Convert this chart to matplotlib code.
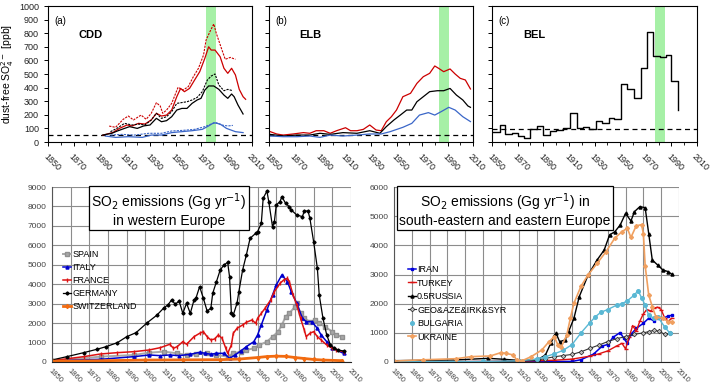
import matplotlib
matplotlib.use("Agg")
import matplotlib.pyplot as plt
from matplotlib.ticker import MultipleLocator, FixedLocator

plt.rcParams['font.family'] = ['Liberation Sans', 'DejaVu Sans']

# ---- ice core records (ppb) ----
cdd_red_yr = [1893, 1901, 1906, 1912, 1916, 1921, 1926, 1931, 1935, 1939, 1943, 1947, 1951, 1954, 1957,
              1961, 1965, 1969, 1973, 1976, 1978, 1981, 1985, 1988, 1991, 1994, 1997, 2000, 2003, 2005]
cdd_red = [50, 70, 100, 125, 118, 137, 132, 162, 211, 191, 198, 235, 333, 394, 370,
           394, 456, 517, 615, 700, 676, 676, 627, 542, 505, 542, 493, 387, 333, 314]
cdd_red_up_yr = [1898, 1903, 1909, 1913, 1917, 1923, 1927, 1931, 1935, 1938, 1940, 1943, 1947, 1952,
                 1956, 1960, 1964, 1968, 1972, 1974, 1977, 1980, 1982, 1986, 1989, 1993, 1997]
cdd_red_up = [117, 108, 167, 191, 162, 198, 167, 211, 289, 265, 211, 235, 284, 402,
              382, 407, 480, 542, 640, 750, 811, 868, 799, 689, 608, 622, 608]
cdd_blk_yr = [1893, 1900, 1905, 1910, 1914, 1920, 1925, 1930, 1935, 1939, 1943, 1947, 1951, 1955,
              1959, 1963, 1967, 1970, 1973, 1976, 1980, 1984, 1988, 1991, 1994, 1996, 1999, 2003]
cdd_blk = [51, 64, 83, 100, 113, 100, 118, 125, 174, 149, 157, 186, 235, 247,
           247, 284, 309, 321, 382, 412, 412, 387, 345, 321, 353, 333, 272, 206]
cdd_blk_up_yr = [1899, 1904, 1910, 1916, 1921, 1926, 1931, 1935, 1939, 1943, 1947, 1951, 1955,
                 1959, 1963, 1967, 1971, 1975, 1978, 1981, 1984, 1988, 1991, 1995]
cdd_blk_up = [76, 100, 137, 125, 132, 125, 162, 211, 174, 186, 223, 284, 290,
              296, 309, 328, 370, 456, 485, 500, 419, 377, 387, 377]
cdd_blu_yr = [1895, 1903, 1913, 1924, 1931, 1939, 1947, 1955, 1963, 1971, 1976, 1980, 1985, 1990, 1997, 2003]
cdd_blu = [44, 34, 39, 34, 51, 51, 69, 76, 83, 93, 118, 142, 132, 100, 76, 69]
cdd_blu_up_yr = [1899, 1908, 1918, 1929, 1939, 1947, 1955, 1965, 1973, 1978, 1982, 1986, 1991, 1995]
cdd_blu_up = [51, 56, 51, 64, 64, 81, 85, 93, 113, 132, 142, 125, 118, 122]

elb_red_yr = [1851, 1856, 1861, 1869, 1877, 1882, 1887, 1893, 1898, 1903, 1910, 1914, 1919, 1924, 1929,
              1934, 1938, 1942, 1946, 1950, 1955, 1961, 1966, 1971, 1976, 1980, 1983, 1987, 1992, 1996,
              2000, 2004, 2008]
elb_red = [76, 59, 51, 59, 69, 64, 83, 83, 64, 83, 105, 83, 83, 93, 125,
           88, 83, 149, 186, 235, 333, 358, 431, 480, 505, 559, 542, 517, 537, 500,
           468, 456, 390]
elb_blk_yr = [1851, 1861, 1872, 1882, 1890, 1898, 1908, 1919, 1929, 1937, 1942, 1948, 1953, 1958,
              1962, 1966, 1971, 1976, 1982, 1987, 1992, 1997, 2002, 2006, 2008]
elb_blk = [56, 44, 51, 51, 64, 56, 69, 64, 83, 64, 113, 162, 198, 235,
           235, 296, 333, 370, 377, 377, 394, 345, 309, 265, 255]
elb_blu_yr = [1851, 1861, 1872, 1882, 1890, 1898, 1908, 1919, 1929, 1938, 1945, 1955, 1962, 1968,
              1975, 1980, 1985, 1991, 1996, 2002, 2008]
elb_blu = [44, 39, 39, 44, 34, 51, 44, 51, 59, 59, 76, 108, 137, 198,
           216, 198, 223, 255, 235, 186, 150]

bel_edges = [1850, 1856, 1860, 1865.5, 1870, 1875, 1880, 1885, 1890, 1895.5, 1900, 1905.5, 1910.5, 1916,
             1921, 1926, 1931, 1936, 1941, 1945.5, 1950.5, 1955.5, 1960.5, 1966, 1971, 1976, 1981,
             1985.5, 1990, 1995.5]
bel_vals = [74, 123, 57, 66, 44, 29, 98, 115, 49, 81, 91, 101, 216, 101,
            111, 93, 152, 143, 179, 167, 430, 393, 324, 541, 806, 631, 622,
            639, 447, 238]

bands = [(1974, 1982), (1983, 1991), (1977, 1985)]
background = [50, 50, 95]
top_ticks = list(range(1850, 2011, 20))

# ---- emissions, western Europe (Gg/yr) ----
ger_yr = [1850, 1858, 1867, 1874, 1879, 1885, 1890, 1895, 1901, 1906, 1910, 1912, 1914, 1916, 1918, 1920,
          1922, 1924, 1926, 1927, 1929, 1931, 1933, 1935, 1936, 1938, 1940, 1942, 1944, 1945, 1946, 1947,
          1949, 1950, 1952, 1954, 1956, 1959, 1960, 1962, 1963, 1965, 1966, 1968, 1969, 1970, 1972, 1973,
          1975, 1977, 1978, 1981, 1984, 1985, 1987, 1988, 1990, 1992, 1993, 1995, 1997, 1999, 2001, 2003, 2006]
ger = [104, 276, 481, 653, 790, 996, 1304, 1510, 2024, 2400, 2796, 2932, 3190, 2967, 3138, 2504,
       3018, 2504, 3190, 3275, 3875, 3275, 2624, 2761, 3532, 4132, 4732, 4989, 5126, 4389, 2504, 2418,
       3018, 3618, 4732, 5504, 6361, 6618, 6704, 7132, 8417, 8794, 8246, 6961, 7218, 8075, 8246, 8503,
       8160, 7989, 7818, 7560, 7475, 7766, 7766, 7389, 6189, 4818, 3446, 2247, 1390, 876, 704, 619, 567]
fra_yr = [1850, 1867, 1876, 1885, 1894, 1902, 1908, 1913, 1915, 1917, 1920, 1922, 1926, 1929, 1931, 1933,
          1935, 1937, 1939, 1941, 1943, 1944, 1946, 1947, 1949, 1952, 1954, 1957, 1959, 1960, 1962, 1964,
          1967, 1969, 1972, 1974, 1976, 1977, 1979, 1981, 1983, 1985, 1986, 1988, 1990, 1992, 1994, 1997,
          2000, 2002, 2006]
fra = [70, 276, 413, 481, 533, 619, 739, 910, 704, 790, 1047, 910, 1304, 1476, 1561, 1304,
       1133, 1184, 1390, 1219, 704, 447, 876, 1476, 1733, 1904, 2041, 2161, 1990, 2247, 2504, 2761,
       3190, 3618, 4046, 4218, 4304, 4132, 3446, 2932, 2247, 1647, 1304, 1476, 1561, 1304, 1133, 876,
       704, 619, 533]
ita_yr = [1850, 1876, 1894, 1902, 1908, 1913, 1918, 1924, 1929, 1932, 1935, 1938, 1942, 1945, 1948, 1951,
          1954, 1958, 1960, 1962, 1965, 1968, 1970, 1973, 1976, 1978, 1981, 1984, 1986, 1989, 1992, 1994,
          1997, 2000, 2006]
ita = [70, 138, 276, 361, 327, 361, 327, 396, 499, 447, 396, 447, 447, 190, 361, 567,
       790, 1047, 1390, 1904, 2676, 3446, 3961, 4475, 4132, 3618, 3018, 2247, 2076, 2076, 1733, 1390,
       1047, 704, 447]
spa_yr = [1850, 1876, 1894, 1902, 1910, 1917, 1922, 1927, 1933, 1938, 1944, 1947, 1951, 1954, 1958, 1961,
          1965, 1968, 1971, 1973, 1975, 1977, 1980, 1981, 1983, 1985, 1988, 1991, 1993, 1996, 2000, 2002, 2005]
spa = [50, 276, 361, 481, 533, 447, 361, 396, 447, 361, 276, 447, 533, 619, 704, 876,
       1047, 1304, 1561, 1904, 2333, 2504, 2847, 3018, 2504, 2247, 2076, 2161, 1990, 1819, 1561, 1390, 1304]
swi_yr = [1850, 1880, 1900, 1920, 1940, 1950, 1960, 1965, 1970, 1975, 1980, 1985, 1990, 1995, 2005]
swi = [40, 70, 100, 110, 120, 150, 230, 280, 300, 290, 230, 180, 130, 100, 70]

# ---- emissions, south-eastern and eastern Europe (Gg/yr) ----
rus_yr = [1850, 1884, 1903, 1912, 1922, 1931, 1935, 1938, 1940, 1941, 1943, 1946, 1948, 1951, 1954, 1959,
          1964, 1968, 1971, 1974, 1977, 1980, 1983, 1985, 1988, 1991, 1993, 1995, 1998, 2001, 2004, 2006]
rus = [46, 69, 126, 92, 46, 92, 240, 640, 900, 983, 697, 754, 1040, 1497, 2240, 2983,
       3497, 3840, 4355, 4469, 4698, 5097, 4835, 5155, 5326, 5292, 4400, 3497, 3326, 3154, 3097, 3006]
ukr_yr = [1850, 1866, 1885, 1893, 1904, 1910, 1913, 1917, 1919, 1922, 1927, 1933, 1937, 1940, 1942, 1944,
          1947, 1949, 1951, 1955, 1959, 1964, 1969, 1974, 1978, 1981, 1983, 1986, 1989, 1990, 1991, 1993,
          1995, 1997, 2001, 2004, 2006]
ukr = [30, 75, 114, 183, 206, 320, 297, 240, 60, 46, 183, 412, 697, 869, 583, 526,
       926, 1500, 2012, 2600, 2990, 3380, 3780, 4250, 4470, 4584, 4270, 4670, 4710, 4400, 3300, 2300,
       1897, 1554, 1497, 1383, 1383]
bul_yr = [1850, 1900, 1920, 1930, 1935, 1940, 1945, 1950, 1955, 1960, 1963, 1966, 1970, 1975, 1978, 1981,
          1985, 1987, 1989, 1991, 1993, 1996, 1998, 2002, 2005]
bul = [10, 20, 40, 100, 180, 280, 400, 600, 1000, 1350, 1550, 1700, 1800, 1950, 2000, 2100,
       2300, 2450, 2200, 1950, 1600, 1500, 1550, 1200, 980]
irn_yr = [1850, 1950, 1955, 1962, 1967, 1970, 1973, 1977, 1979, 1981, 1983, 1986, 1990, 1993, 1996, 1998,
          2001, 2004, 2006]
irn = [0, 20, 80, 270, 550, 600, 850, 1010, 810, 640, 950, 1150, 1330, 1500, 1410, 1500,
       1500, 1580, 1600]
tur_yr = [1850, 1920, 1940, 1950, 1960, 1965, 1970, 1975, 1978, 1980, 1982, 1984, 1986, 1988, 1990, 1992,
          1994, 1996, 1998, 2000, 2002, 2004, 2006]
tur = [0, 30, 60, 100, 200, 280, 380, 550, 640, 450, 850, 1250, 1050, 1400, 1650, 1800,
       1750, 1850, 1880, 1800, 1500, 1400, 1500]
geo_yr = [1850, 1920, 1930, 1935, 1940, 1945, 1950, 1955, 1960, 1965, 1970, 1975, 1980, 1985, 1990, 1993,
          1996, 1999, 2002, 2005]
geo = [0, 20, 60, 120, 180, 220, 260, 350, 470, 580, 700, 800, 870, 950, 1000, 1040,
       1090, 1050, 950, 980]

RED = '#cc0000'
BLUE = '#3a66c8'
GREEN = '#a6f0a6'

fig = plt.figure(figsize=(7.14, 3.88), dpi=100)


def slant_labels(ax):
    for lab in ax.get_xticklabels():
        lab.set_rotation(-45)
        lab.set_ha('left')
        lab.set_va('top')
        lab.set_rotation_mode('anchor')


# ---------------- top row: ice cores ----------------
lefts = [48, 269, 492]
widths = [204, 204, 205]
tags = ['(a)', '(b)', '(c)']
sites = ['CDD', 'ELB', 'BEL']
top_axes = []
for i in range(3):
    ax = fig.add_axes([lefts[i] / 714, 1 - 142 / 388, widths[i] / 714, 136 / 388])
    ax.set_xlim(1850, 2010)
    ax.set_ylim(0, 1000)
    ax.axvspan(bands[i][0], bands[i][1], color=GREEN, lw=0, zorder=0)
    ax.axhline(background[i], color='black', ls=(0, (4, 3)), lw=0.9, zorder=1)
    ax.xaxis.set_major_locator(FixedLocator(top_ticks))
    ax.xaxis.set_minor_locator(MultipleLocator(10))
    ax.yaxis.set_major_locator(MultipleLocator(100))
    ax.tick_params(axis='both', which='major', length=3, width=0.7, labelsize=6.5,
                   direction='out', labelcolor='#222222')
    ax.tick_params(axis='x', which='minor', length=2, width=0.6, direction='out')
    ax.tick_params(axis='x', which='major', pad=4)
    slant_labels(ax)
    if i > 0:
        ax.set_yticklabels([])
    for s in ax.spines.values():
        s.set_linewidth(0.8)
    ax.text(0.03, 0.93, tags[i], transform=ax.transAxes, fontsize=7, va='top')
    ax.text(0.15, 0.82, sites[i], transform=ax.transAxes, fontsize=8, fontweight='bold', va='top')
    top_axes.append(ax)

a, b, c = top_axes
a.set_ylabel('dust-free SO$_4^{2-}$ [ppb]', fontsize=7.5, labelpad=2)
a.plot(cdd_red_up_yr, cdd_red_up, color=RED, lw=0.8, ls=(0, (2, 1)))
a.plot(cdd_red_yr, cdd_red, color=RED, lw=0.9)
a.plot(cdd_blk_up_yr, cdd_blk_up, color='black', lw=0.8, ls=(0, (2, 1)))
a.plot(cdd_blk_yr, cdd_blk, color='black', lw=0.9)
a.plot(cdd_blu_up_yr, cdd_blu_up, color=BLUE, lw=0.8, ls=(0, (2, 1)))
a.plot(cdd_blu_yr, cdd_blu, color=BLUE, lw=0.9)

b.plot(elb_red_yr, elb_red, color=RED, lw=0.9)
b.plot(elb_blk_yr, elb_blk, color='black', lw=0.9)
b.plot(elb_blu_yr, elb_blu, color=BLUE, lw=0.9)

c.step(bel_edges, bel_vals, where='post', color='black', lw=1.0)


# ---------------- bottom row: emissions ----------------
def style_emis(ax, ymax):
    ax.set_xlim(1850, 2010)
    ax.set_ylim(0, ymax)
    ax.xaxis.set_major_locator(MultipleLocator(10))
    ax.yaxis.set_major_locator(MultipleLocator(1000))
    ax.grid(True, color='#8c8c8c', lw=0.8)
    ax.set_axisbelow(True)
    for side in ['top', 'right']:
        ax.spines[side].set_visible(False)
    ax.spines['left'].set_color('#555555')
    ax.spines['bottom'].set_color('#222222')
    ax.tick_params(axis='y', length=0, labelsize=6, labelcolor='#444444', pad=4)
    ax.tick_params(axis='x', length=0, labelsize=5.5, labelcolor='#444444', pad=4)
    slant_labels(ax)


d = fig.add_axes([52 / 714, 1 - 362 / 388, 299 / 714, 175 / 388])
style_emis(d, 9000)
d.plot(spa_yr, spa, color='#a8a8a8', lw=1.4, marker='s', ms=2.2, mfc='#a8a8a8', mec='#909090', label='SPAIN')
d.plot(ita_yr, ita, color='#0000cc', lw=1.1, marker='^', ms=2.2, label='ITALY')
d.plot(fra_yr, fra, color='#dd1111', lw=1.1, marker='|', ms=2.5, label='FRANCE')
d.plot(ger_yr, ger, color='black', lw=0.9, marker='D', ms=1.6, label='GERMANY')
d.plot(swi_yr, swi, color='#f26b10', lw=2.0, marker='d', ms=2.2, label='SWITZERLAND')
d.text(0.391, 0.869, 'SO$_2$ emissions (Gg yr$^{-1}$)\nin western Europe', transform=d.transAxes,
       ha='center', va='center', fontsize=10, linespacing=1.1,
       bbox=dict(boxstyle='square,pad=0.15', fc='white', ec='black', lw=0.9))
d.legend(loc='upper left', bbox_to_anchor=(0.025, 0.66), frameon=False, fontsize=6.5,
         handlelength=0.9, handletextpad=0.15, labelspacing=0.45, borderaxespad=0)

e = fig.add_axes([394 / 714, 1 - 362 / 388, 285 / 714, 175 / 388])
style_emis(e, 6000)
e.plot(irn_yr, irn, color='#0000dd', lw=1.1, marker='s', ms=1.8, label='IRAN')
e.plot(tur_yr, tur, color='#dd1111', lw=1.0, marker='_', ms=3, label='TURKEY')
e.plot(rus_yr, rus, color='black', lw=1.0, marker='^', ms=2.2, label='0.5RUSSIA')
e.plot(geo_yr, geo, color='#333333', lw=0.8, marker='D', ms=2.4, mfc='#bbbbbb', mec='#222222', mew=0.5,
       label='GEO&AZE&IRK&SYR')
e.plot(bul_yr, bul, color='#5ab8d4', lw=1.0)
e.plot(bul_yr, bul, color='#5ab8d4', lw=0, marker='o', ms=2.6, label='BULGARIA')
e.plot(ukr_yr, ukr, color='#f0a060', lw=1.2, marker='D', ms=2.0, label='UKRAINE')
e.text(0.389, 0.869, 'SO$_2$ emissions (Gg yr$^{-1}$) in\nsouth-eastern and eastern Europe',
       transform=e.transAxes, ha='center', va='center', fontsize=10, linespacing=1.1,
       bbox=dict(boxstyle='square,pad=0.15', fc='white', ec='black', lw=0.9))
e.legend(loc='upper left', bbox_to_anchor=(0.035, 0.575), frameon=False, fontsize=6.5,
         handlelength=0.9, handletextpad=0.15, labelspacing=0.5, borderaxespad=0)

fig.savefig('out.png', dpi=100)
